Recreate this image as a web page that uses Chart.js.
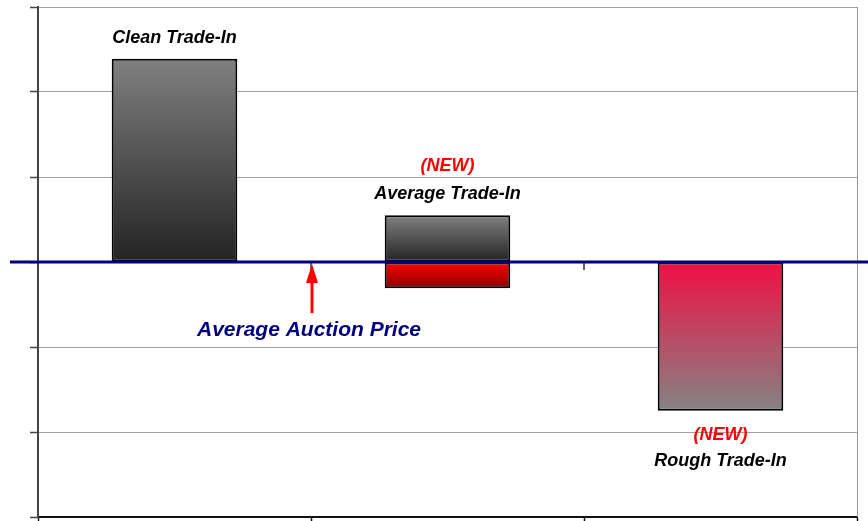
<!DOCTYPE html>
<html>
<head>
<meta charset="utf-8">
<script src="https://cdn.jsdelivr.net/npm/chart.js@4/dist/chart.umd.min.js"></script>
<style>
  html, body { margin: 0; padding: 0; background: #fff; }
  #wrap { width: 868px; height: 521px; }
</style>
</head>
<body>
<div id="wrap"><canvas id="tradeChart"></canvas></div>
<script>
// Данные
const categories = ['Clean Trade-In', 'Average Trade-In', 'Rough Trade-In'];
const aboveValues = [2.39, 0.55, null];
const belowValues = [null, -0.31, -1.75];
const newFlags = [false, true, true];
const lineLabel = 'Average Auction Price';

const FONT = '"Liberation Sans", Arial, sans-serif';

// градиент для каждого столбца по его собственной высоте
function barGradient(ctx, topColor, bottomColor) {
    const chart = ctx.chart;
    const v = ctx.raw;
    if (!chart.chartArea || v === null || v === undefined) return topColor;
    const y = chart.scales.y;
    const p0 = y.getPixelForValue(0);
    const p1 = y.getPixelForValue(v);
    const g = chart.ctx.createLinearGradient(0, Math.min(p0, p1), 0, Math.max(p0, p1));
    g.addColorStop(0, topColor);
    g.addColorStop(1, bottomColor);
    return g;
}

const decorPlugin = {
    id: 'decor',
    afterDatasetsDraw(chart) {
        const c = chart.ctx;
        const xs = chart.scales.x;
        const ys = chart.scales.y;
        const area = chart.chartArea;
        const zero = ys.getPixelForValue(0);

        // правая граница
        c.save();
        c.strokeStyle = '#999';
        c.lineWidth = 1;
        c.beginPath();
        c.moveTo(area.right + 0.5, area.top);
        c.lineTo(area.right + 0.5, area.bottom);
        c.stroke();

        // маленькие засечки под нулевой линией
        c.strokeStyle = '#333';
        c.lineWidth = 1.5;
        const step = xs.getPixelForValue(1) - xs.getPixelForValue(0);
        [1, 2].forEach(i => {
            const x = xs.getPixelForValue(i) - step / 2;
            c.beginPath();
            c.moveTo(x, zero);
            c.lineTo(x, zero + 8);
            c.stroke();
        });

        // синяя линия
        c.strokeStyle = '#000080';
        c.lineWidth = 3;
        c.beginPath();
        c.moveTo(area.left - 28, zero);
        c.lineTo(chart.width, zero);
        c.stroke();

        // стрелка
        const ax = xs.getPixelForValue(0) + step / 2 + 1;
        c.strokeStyle = '#ff0000';
        c.fillStyle = '#ff0000';
        c.lineWidth = 3;
        c.beginPath();
        c.moveTo(ax, zero + 51);
        c.lineTo(ax, zero + 14);
        c.stroke();
        c.beginPath();
        c.moveTo(ax, zero + 2);
        c.lineTo(ax - 6, zero + 21);
        c.lineTo(ax + 6, zero + 21);
        c.closePath();
        c.fill();

        c.textAlign = 'center';
        c.textBaseline = 'middle';
        c.font = 'italic bold 21px ' + FONT;
        c.fillStyle = '#000080';
        c.fillText(lineLabel, ax - 3, zero + 68);

        // подписи категорий
        categories.forEach((name, i) => {
            const x = xs.getPixelForValue(i);
            const up = aboveValues[i] !== null;
            c.font = 'italic bold 18px ' + FONT;
            if (up) {
                const top = ys.getPixelForValue(aboveValues[i]);
                c.fillStyle = '#000';
                c.fillText(name, x, top - 21);
                if (newFlags[i]) {
                    c.fillStyle = '#ff0000';
                    c.fillText('(NEW)', x, top - 49);
                }
            } else {
                const bot = ys.getPixelForValue(belowValues[i]);
                c.fillStyle = '#ff0000';
                c.fillText('(NEW)', x, bot + 24);
                c.fillStyle = '#000';
                c.fillText(name, x, bot + 50);
            }
        });
        c.restore();
    }
};

new Chart(document.getElementById('tradeChart'), {
    type: 'bar',
    data: {
        labels: categories,
        datasets: [{
            data: aboveValues,
            backgroundColor: ctx => barGradient(ctx, '#808080', '#232323'),
            borderColor: '#000',
            borderWidth: 2,
            borderSkipped: false,
            categoryPercentage: 0.46,
            barPercentage: 1
        }, {
            data: belowValues,
            backgroundColor: ctx => ctx.dataIndex === 1
                ? barGradient(ctx, '#ff0000', '#8a0000')
                : barGradient(ctx, '#f01044', '#848484'),
            borderColor: '#000',
            borderWidth: 2,
            borderSkipped: false,
            categoryPercentage: 0.46,
            barPercentage: 1
        }]
    },
    options: {
        responsive: true,
        maintainAspectRatio: false,
        animation: false,
        layout: { padding: { top: 7, right: 11, left: 0, bottom: 0 } },
        plugins: {
            legend: { display: false },
            tooltip: { enabled: false }
        },
        scales: {
            x: {
                stacked: true,
                afterFit: s => { s.height = 4; },
                ticks: { display: false },
                grid: {
                    offset: true,
                    drawOnChartArea: false,
                    tickLength: 4,
                    tickColor: '#111',
                    tickWidth: 1.5
                },
                border: { color: '#111', width: 2 }
            },
            y: {
                stacked: true,
                min: -3,
                max: 3,
                afterFit: s => { s.width = 38; },
                ticks: { display: false, stepSize: 1 },
                grid: {
                    color: '#a0a0a0',
                    lineWidth: 1,
                    tickLength: 8,
                    tickColor: '#444',
                    tickWidth: 1.5
                },
                border: { color: '#444', width: 2 }
            }
        }
    },
    plugins: [decorPlugin]
});
</script>
</body>
</html>
